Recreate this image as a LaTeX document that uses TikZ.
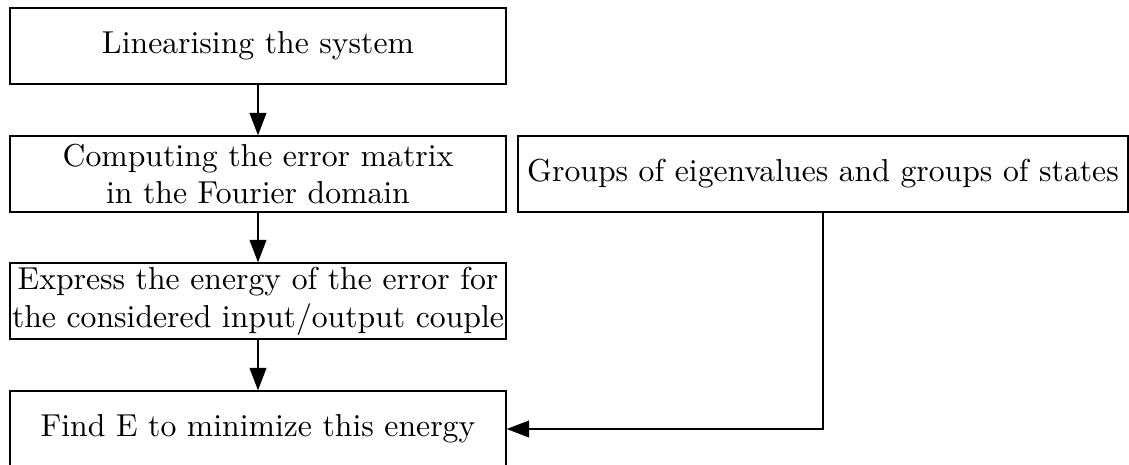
\documentclass[tikz,border=0pt]{standalone}
\usetikzlibrary{arrows.meta}
\begin{document}
\begin{tikzpicture}[x=0.32pt,y=-0.32pt,
  box/.style={draw, line width=0.45pt, inner sep=0pt, minimum height=24.3pt, align=center, font=\fontsize{10.15}{12.1}\selectfont},
  lbox/.style={box, minimum width=158.7pt},
  conn/.style={draw, line width=0.45pt, -{Triangle[length=7.2pt,width=5.4pt]}}]
\useasboundingbox (0,0) rectangle (1129,464);
\node[lbox] (b1) at (258,46) {Linearising the system};
\node[lbox] (b2) at (258,174) {Computing the error matrix\\in the Fourier domain};
\node[box, minimum width=195.2pt] (b3) at (823,174) {Groups of eigenvalues and groups of states};
\node[lbox] (b4) at (258,301) {Express the energy of the error for\\the considered input/output couple};
\node[lbox] (b5) at (258,429) {Find E to minimize this energy};
\draw[conn] (b1) -- (b2);
\draw[conn] (b2) -- (b4);
\draw[conn] (b4) -- (b5);
\draw[conn] (b3.south) |- (b5.east);
\end{tikzpicture}
\end{document}
